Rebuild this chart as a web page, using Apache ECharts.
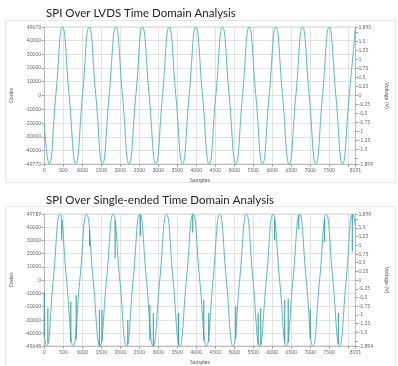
<!DOCTYPE html>
<html><head><meta charset="utf-8">
<script src="https://cdn.jsdelivr.net/npm/echarts@6/dist/echarts.min.js"></script>
<style>html,body{margin:0;padding:0;background:#fff}#c{width:398px;height:366px}</style>
</head><body><div id="c"></div><script>
// ---- titles ----
const chartTitles = ['SPI Over LVDS Time Domain Analysis', 'SPI Over Single-ended Time Domain Analysis'];

// ---- shared x axis ----
const xLabelValues = [0, 500, 1000, 1500, 2000, 2500, 3000, 3500, 4000, 4500, 5000, 5500, 6000, 6500, 7000, 7500, 8191];
const xTickValues = [0, 500, 1000, 1500, 2000, 2500, 3000, 3500, 4000, 4500, 5000, 5500, 6000, 6500, 7000, 7500, 8000, 8191];

// ---- top chart (LVDS) ----
const topCodeLabels = [-49772, -40000, -30000, -20000, -10000, 0, 10000, 20000, 30000, 40000, 49673];
const topVoltLabels = [-1.899, -1.5, -1.25, -1, -0.75, -0.5, -0.25, 0, 0.25, 0.5, 0.75, 1, 1.25, 1.5, 1.895];
const topVoltTicks = [-1.899, -1.75, -1.5, -1.25, -1, -0.75, -0.5, -0.25, 0, 0.25, 0.5, 0.75, 1, 1.25, 1.5, 1.75, 1.895];
const topSamples = [0, 128, 304, 479, 655, 830, 1006, 1181, 1357, 1532, 1708, 1883, 2059, 2234, 2410, 2585, 2761, 2936, 3112, 3287, 3463, 3638, 3814, 3989, 4165, 4340, 4516, 4691, 4867, 5042, 5218, 5393, 5569, 5744, 5920, 6095, 6271, 6446, 6622, 6797, 6973, 7148, 7324, 7499, 7675, 7850, 8026, 8191];
const topCodes = [-20500, -49772, 0, 49673, 0, -49772, 0, 49673, 0, -49772, 0, 49673, 0, -49772, 0, 49673, 0, -49772, 0, 49673, 0, -49772, 0, 49673, 0, -49772, 0, 49673, 0, -49772, 0, 49673, 0, -49772, 0, 49673, 0, -49772, 0, 49673, 0, -49772, 0, 49673, 0, -49772, 0, 49500];

// ---- bottom chart (single-ended) ----
const botCodeLabels = [-49648, -40000, -30000, -20000, -10000, 0, 10000, 20000, 30000, 40000, 49789];
const botVoltLabels = [-1.894, -1.5, -1.25, -1, -0.75, -0.5, -0.25, 0, 0.25, 0.5, 0.75, 1, 1.25, 1.5, 1.899];
const botVoltTicks = [-1.894, -1.75, -1.5, -1.25, -1, -0.75, -0.5, -0.25, 0, 0.25, 0.5, 0.75, 1, 1.25, 1.5, 1.75, 1.899];
const botSamples = [0, 61, 236, 412, 587, 762, 937, 1113, 1288, 1463, 1638, 1814, 1989, 2164, 2339, 2515, 2690, 2865, 3040, 3216, 3391, 3566, 3741, 3917, 4092, 4267, 4442, 4618, 4793, 4968, 5143, 5319, 5494, 5669, 5844, 6020, 6195, 6370, 6545, 6721, 6896, 7071, 7246, 7422, 7597, 7772, 7947, 8123, 8191];
const botCodes = [-42400, -49648, 0, 49789, 0, -49648, 0, 49789, 0, -49648, 0, 49789, 0, -49648, 0, 49789, 0, -49648, 0, 49789, 0, -49648, 0, 49789, 0, -49648, 0, 49789, 0, -49648, 0, 49789, 0, -49648, 0, 49789, 0, -49648, 0, 49789, 0, -49648, 0, 49789, 0, -49648, 0, 49789, 40500];
// glitches: sample, code before jump, code of the spike
const glitchSamples = [0, 95, 460, 700, 840, 1193, 1450, 1520, 1865, 2200, 2528, 2780, 2870, 3535, 3908, 4200, 4330, 5040, 5630, 5700, 6063, 6330, 6420, 6700, 7000, 7381, 7740, 8107];
const glitchFrom = [-42400, -47400, 45300, -47000, -45000, 38000, -49500, -46500, 44700, -48500, 49500, -45500, -49600, -49000, 49600, -45500, -46500, -44000, -49000, -48500, 46100, -47500, -47000, 49000, -44000, 46500, -48500, 49400];
const glitchTo = [-9000, -21100, 29700, -16300, -11400, 25600, -22300, -22300, 16400, -30000, 33300, -18700, -24800, -24800, 35800, -15000, -24800, -20000, -24800, -21100, 30000, -15000, -13800, 38000, -22300, 28700, -24800, 21500];

const LINE = '#5cb8b8', DARK = '#2e9999', LBL = '#666', FONT = 'Lato, "Liberation Sans", sans-serif';
const zip = (xs, ys) => xs.map((x, i) => [x, ys[i]]);
const glitchData = [];
glitchSamples.forEach((s, i) => { glitchData.push([s, glitchFrom[i]], [s, glitchTo[i]], [s, '-']); });

const grids = [
  {left: 44, top: 27, width: 321, height: 137, show: true, borderColor: '#d4d4d4', borderWidth: 1},
  {left: 44, top: 214, width: 321, height: 137, show: true, borderColor: '#d4d4d4', borderWidth: 1}
];
const fmt = v => String(v);
function xAxis(gi) {
  return {type: 'value', gridIndex: gi, min: 0, max: 8191, name: 'Samples', nameLocation: 'middle', nameGap: 13,
    nameTextStyle: {fontSize: 5.5, color: '#555', fontFamily: FONT},
    axisLine: {show: true, onZero: false, lineStyle: {color: '#bbb', width: 1}},
    axisTick: {show: true, length: 2.5, customValues: xTickValues, lineStyle: {color: '#999'}},
    axisLabel: {customValues: xLabelValues, formatter: fmt, fontSize: 5, color: LBL, margin: 4, fontFamily: FONT},
    splitLine: {show: true, lineStyle: {color: '#e2e2e2', width: 1}}};
}
function yLeft(gi, labels) {
  return {type: 'value', gridIndex: gi, min: labels[0], max: labels[labels.length - 1], position: 'left',
    name: 'Codes', nameLocation: 'middle', nameGap: 24, nameRotate: 90,
    nameTextStyle: {fontSize: 5.5, color: '#555', fontFamily: FONT},
    axisLine: {show: true, onZero: false, lineStyle: {color: '#bbb'}},
    axisTick: {show: true, length: 2.5, customValues: labels, lineStyle: {color: '#999'}},
    axisLabel: {customValues: labels, formatter: fmt, fontSize: 5, color: LBL, margin: 3, fontFamily: FONT},
    splitLine: {show: true, lineStyle: {color: '#e2e2e2', width: 1}}};
}
function yRight(gi, labels, ticks) {
  return {type: 'value', gridIndex: gi, min: labels[0], max: labels[labels.length - 1], position: 'right',
    name: 'Voltage (V)', nameLocation: 'middle', nameGap: 22, nameRotate: -90,
    nameTextStyle: {fontSize: 5.5, color: '#555', fontFamily: FONT},
    axisLine: {show: true, onZero: false, lineStyle: {color: '#bbb'}},
    axisTick: {show: true, length: 2.5, customValues: ticks, lineStyle: {color: '#999'}},
    axisLabel: {customValues: labels, formatter: fmt, fontSize: 5, color: LBL, margin: 3, fontFamily: FONT},
    splitLine: {show: false}};
}

const chart = echarts.init(document.getElementById('c'), null, {renderer: 'canvas'});
chart.setOption({
  animation: false,
  backgroundColor: '#fff',
  graphic: [
    {type: 'rect', shape: {x: 5.5, y: 20.5, width: 390, height: 162}, style: {fill: 'none', stroke: '#e6e6e6', lineWidth: 1}, silent: true, z: -10},
    {type: 'rect', shape: {x: 5.5, y: 206.5, width: 390, height: 170}, style: {fill: 'none', stroke: '#e6e6e6', lineWidth: 1}, silent: true, z: -10}
  ],
  title: [
    {text: chartTitles[0], left: 46, top: 7, padding: 0, textStyle: {fontSize: 11.5, fontWeight: 'normal', color: '#222', fontFamily: FONT}},
    {text: chartTitles[1], left: 46, top: 194, padding: 0, textStyle: {fontSize: 11.5, fontWeight: 'normal', color: '#222', fontFamily: FONT}}
  ],
  grid: grids,
  xAxis: [xAxis(0), xAxis(1)],
  yAxis: [yLeft(0, topCodeLabels), yRight(0, topVoltLabels, topVoltTicks), yLeft(1, botCodeLabels), yRight(1, botVoltLabels, botVoltTicks)],
  series: [
    {type: 'line', xAxisIndex: 0, yAxisIndex: 0, data: zip(topSamples, topCodes), smooth: 0.5, showSymbol: false, lineStyle: {color: LINE, width: 1}},
    {type: 'line', xAxisIndex: 1, yAxisIndex: 2, data: zip(botSamples, botCodes), smooth: 0.5, showSymbol: false, lineStyle: {color: LINE, width: 1}},
    {type: 'line', xAxisIndex: 1, yAxisIndex: 2, data: glitchData, showSymbol: false, connectNulls: false, lineStyle: {color: DARK, width: 1}}
  ]
});
</script></body></html>
